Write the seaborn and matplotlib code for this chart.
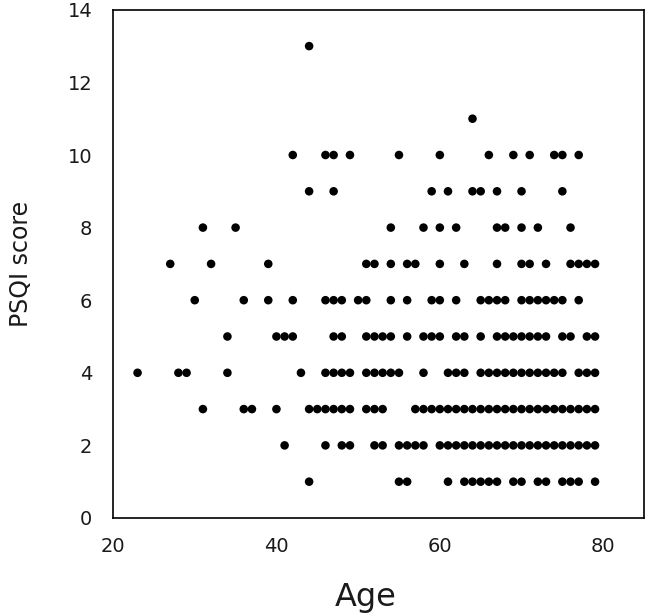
import matplotlib
matplotlib.use("Agg")
import matplotlib.pyplot as plt
import numpy as np
import pandas as pd
import seaborn as sns

# ages observed at each PSQI score
ages_s1 = [44, 55, 56, 61, 63, 64, 65, 66, 67, 69, 70, 72, 73, 75, 76, 77, 79]
ages_s2 = [41, 46, 48, 49, 52, 53, 55, 56, 57, 58] + list(range(60, 80))
ages_s3 = [31, 36, 37, 40, 44, 45, 46, 47, 48, 49, 51, 52, 53] + list(range(57, 80))
ages_s4 = [23, 28, 29, 34, 43, 46, 47, 48, 49, 51, 52, 53, 54, 55, 58, 61, 62, 63,
           65, 66, 67, 68, 69, 70, 71, 72, 73, 74, 75, 77, 78, 79]
ages_s5 = [34, 40, 41, 42, 47, 48, 51, 52, 53, 54, 56, 58, 59, 60, 62, 63, 65,
           67, 68, 69, 70, 71, 72, 73, 75, 76, 78, 79]
ages_s6 = [30, 36, 39, 42, 46, 47, 48, 50, 51, 54, 56, 59, 60, 62, 65, 66, 67, 68,
           70, 71, 72, 73, 74, 75, 77]
ages_s7 = [27, 32, 39, 51, 52, 54, 56, 57, 60, 63, 67, 70, 71, 73, 76, 77, 78, 79]
ages_s8 = [31, 35, 54, 58, 60, 62, 67, 68, 70, 72, 76]
ages_s9 = [44, 47, 59, 61, 64, 65, 67, 70, 75]
ages_s10 = [42, 46, 47, 49, 55, 60, 66, 69, 71, 74, 75, 77]
ages_s11 = [64]
ages_s13 = [44]

scores = [1, 2, 3, 4, 5, 6, 7, 8, 9, 10, 11, 13]
age_lists = [ages_s1, ages_s2, ages_s3, ages_s4, ages_s5, ages_s6, ages_s7,
             ages_s8, ages_s9, ages_s10, ages_s11, ages_s13]

rows = []
for s, ages in zip(scores, age_lists):
    for a in ages:
        rows.append((a, s))
df = pd.DataFrame(rows, columns=["Age", "PSQI score"])

sns.set_style("white")
plt.rcParams['font.family'] = ['DejaVu Sans']

fig = plt.figure(figsize=(6.46, 6.13), dpi=100)
ax = fig.add_axes([0.175, 0.155, 0.822, 0.829])

sns.scatterplot(data=df, x="Age", y="PSQI score", color="black", s=38,
                edgecolor="none", linewidth=0, ax=ax, clip_on=False)

ax.set_xlim(20, 85)
ax.set_ylim(0, 14)
ax.set_xticks([20, 40, 60, 80])
ax.set_yticks(np.arange(0, 15, 2))
ax.tick_params(axis="both", which="both", length=0, labelsize=14, pad=15,
               labelcolor="#1a1a1a")
ax.tick_params(axis="x", pad=14)
for sp in ax.spines.values():
    sp.set_color("black")
    sp.set_linewidth(1.2)
ax.set_xlabel("Age", fontsize=23, color="#1a1a1a")
ax.set_ylabel("PSQI score", fontsize=17, color="#1a1a1a")
ax.xaxis.set_label_coords(0.475, -0.125)
ax.yaxis.set_label_coords(-0.15, 0.5)

plt.savefig("out.png", dpi=100)
